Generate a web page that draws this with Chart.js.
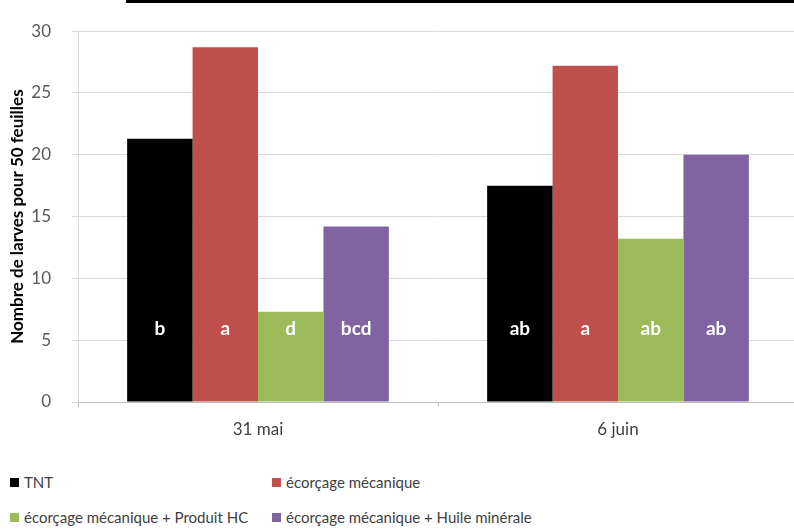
<!DOCTYPE html>
<html>
<head>
<meta charset="utf-8">
<script src="https://cdn.jsdelivr.net/npm/chart.js@4.4.1/dist/chart.umd.min.js"></script>
<style>
  html, body { margin: 0; padding: 0; background: #fff; overflow: hidden; }
  #wrap { position: relative; width: 794px; height: 531px; overflow: hidden; }
  #rule { position: absolute; left: 126px; top: 0; width: 700px; height: 3px; background: #000; }
  #chart { position: absolute; left: 0; top: 0; }
  #legend { position: absolute; left: 10px; top: 473px; width: 784px;
            font-family: Lato, "Open Sans", sans-serif; font-size: 15px; color: #404040; }
  .item { position: absolute; white-space: nowrap; }
  .item i { display: inline-block; width: 9px; height: 9px; margin-right: 5px; vertical-align: 1px; }
</style>
</head>
<body>
<div id="wrap">
  <div id="rule"></div>
  <canvas id="chart" width="820" height="445"></canvas>
  <div id="legend"></div>
</div>
<script>
// dates sampled
const categories = ['31 mai', '6 juin'];

// larvae per 50 leaves, one array per treatment
const tnt = [21.3, 17.5];
const ecorcage = [28.7, 27.2];
const ecorcageHC = [7.3, 13.2];
const ecorcageHuile = [14.2, 20.0];

// significance letters written at the foot of each bar
const lettersTnt = ['b', 'ab'];
const lettersEcorcage = ['a', 'a'];
const lettersHC = ['d', 'ab'];
const lettersHuile = ['bcd', 'ab'];

const seriesNames = [
  'TNT',
  'écorçage mécanique',
  'écorçage mécanique + Produit HC',
  'écorçage mécanique + Huile minérale'
];
const seriesColors = ['#000000', '#c0504d', '#9bbb59', '#8064a2'];
const yTicks = [0, 5, 10, 15, 20, 25, 30];

const FONT = 'Lato, "Open Sans", sans-serif';

const barLetters = {
  id: 'barLetters',
  afterDatasetsDraw(chart) {
    const ctx = chart.ctx;
    ctx.save();
    ctx.fillStyle = '#ffffff';
    ctx.font = 'bold 19px ' + FONT;
    ctx.textAlign = 'center';
    ctx.textBaseline = 'middle';
    chart.data.datasets.forEach(function (ds, i) {
      chart.getDatasetMeta(i).data.forEach(function (bar, j) {
        ctx.fillText(ds.letters[j], bar.x, bar.base - 73);
      });
    });
    ctx.restore();
  }
};

const values = [tnt, ecorcage, ecorcageHC, ecorcageHuile];
const letters = [lettersTnt, lettersEcorcage, lettersHC, lettersHuile];

const ctx = document.getElementById('chart').getContext('2d');
const chart = new Chart(ctx, {
  type: 'bar',
  data: {
    labels: categories,
    datasets: seriesNames.map(function (name, i) {
      return {
        label: name,
        data: values[i],
        letters: letters[i],
        backgroundColor: seriesColors[i],
        borderWidth: 0,
        categoryPercentage: 0.727,
        barPercentage: 1.0
      };
    })
  },
  options: {
    responsive: false,
    animation: false,
    layout: { padding: { top: 23, right: 22, left: 0, bottom: 0 } },
    plugins: {
      legend: { display: false },
      tooltip: { enabled: false }
    },
    scales: {
      x: {
        afterFit: function (s) { s.height = 43; },
        grid: {
          drawOnChartArea: false,
          drawTicks: true,
          tickLength: 5,
          color: '#bfbfbf',
          offset: true
        },
        border: { color: '#bfbfbf' },
        ticks: {
          color: '#404040',
          font: { family: FONT, size: 17 },
          padding: 12
        }
      },
      y: {
        min: 0,
        max: 30,
        afterFit: function (s) { s.width = 78; },
        afterBuildTicks: function (s) {
          s.ticks = yTicks.map(function (v) { return { value: v }; });
        },
        grid: { color: '#d9d9d9', tickLength: 6 },
        border: { color: '#d9d9d9' },
        ticks: {
          color: '#595959',
          font: { family: FONT, size: 17 },
          padding: 21
        },
        title: {
          display: true,
          text: 'Nombre de larves pour 50 feuilles',
          color: '#000',
          font: { family: FONT, size: 17, weight: 'bold' },
          padding: { top: 7, bottom: 0 }
        }
      }
    }
  },
  plugins: [barLetters]
});

// two-column legend under the plot
const legendEl = document.getElementById('legend');
chart.data.datasets.forEach(function (ds, i) {
  const item = document.createElement('div');
  item.className = 'item';
  item.style.left = (i % 2 === 0 ? 0 : 262) + 'px';
  item.style.top = (i < 2 ? 0 : 35) + 'px';
  const sw = document.createElement('i');
  sw.style.background = ds.backgroundColor;
  item.appendChild(sw);
  item.appendChild(document.createTextNode(ds.label));
  legendEl.appendChild(item);
});
</script>
</body>
</html>
